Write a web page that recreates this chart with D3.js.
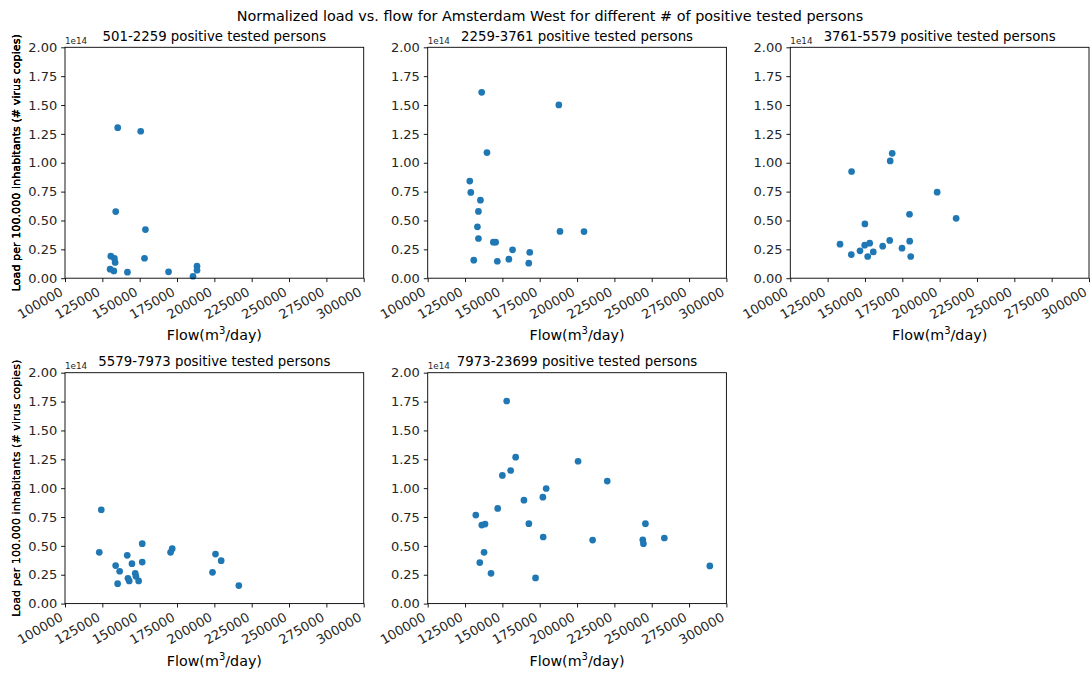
<!DOCTYPE html>
<html>
<head>
<meta charset="utf-8">
<script src="https://cdn.jsdelivr.net/npm/d3@7"></script>
<style>
  body { margin: 0; background: #fff; }
  svg { display: block; font-family: "DejaVu Sans", sans-serif; }
</style>
</head>
<body>
<svg id="chart" width="1091" height="675"></svg>
<script>
// Bins of positive tested persons
const groupLabels = [
  "501-2259 positive tested persons",
  "2259-3761 positive tested persons",
  "3761-5579 positive tested persons",
  "5579-7973 positive tested persons",
  "7973-23699 positive tested persons"
];

// Flow (m3/day) and load per 100.000 inhabitants (# virus copies), per bin
const flowA = [135300, 150700, 133970, 153850, 130670, 133090, 133560, 130200, 132680, 141810, 153220, 169330, 185700, 188390, 188390];
const loadA = [1.304e14, 1.273e14, 0.577e14, 0.421e14, 0.191e14, 0.171e14, 0.136e14, 0.078e14, 0.063e14, 0.052e14, 0.173e14, 0.055e14, 0.017e14, 0.104e14, 0.069e14];

const flowB = [136140, 187800, 139690, 128170, 128840, 135300, 133970, 133300, 133970, 143960, 145490, 156810, 168330, 130840, 146620, 154340, 167670, 188580, 204660];
const loadB = [1.610e14, 1.501e14, 1.088e14, 0.841e14, 0.743e14, 0.676e14, 0.578e14, 0.445e14, 0.344e14, 0.312e14, 0.312e14, 0.246e14, 0.223e14, 0.156e14, 0.147e14, 0.165e14, 0.130e14, 0.405e14, 0.404e14];

const flowC = [168230, 166890, 141030, 198330, 179820, 211040, 149940, 133280, 140850, 146670, 149820, 153160, 151820, 155570, 161870, 166560, 174790, 179950, 180620];
const loadC = [1.082e14, 1.016e14, 0.924e14, 0.745e14, 0.554e14, 0.519e14, 0.470e14, 0.295e14, 0.205e14, 0.237e14, 0.286e14, 0.303e14, 0.188e14, 0.228e14, 0.277e14, 0.327e14, 0.260e14, 0.321e14, 0.188e14];

const flowD = [124290, 122950, 151710, 141670, 151710, 144820, 133910, 136590, 147030, 147490, 142140, 143010, 149300, 135230, 170680, 171790, 198770, 200780, 204570, 216390];
const loadD = [0.813e14, 0.444e14, 0.519e14, 0.418e14, 0.360e14, 0.346e14, 0.329e14, 0.280e14, 0.262e14, 0.236e14, 0.219e14, 0.196e14, 0.196e14, 0.173e14, 0.444e14, 0.476e14, 0.271e14, 0.429e14, 0.372e14, 0.156e14];

const flowE = [132200, 146870, 136200, 138400, 167730, 177330, 137730, 134870, 142400, 172200, 152890, 158890, 200670, 155560, 150000, 220220, 179330, 177110, 164440, 210440, 244000, 244440, 245780, 258440, 288890];
const loadE = [0.767e14, 0.824e14, 0.680e14, 0.689e14, 0.692e14, 0.577e14, 0.444e14, 0.355e14, 0.262e14, 0.222e14, 1.755e14, 1.268e14, 1.233e14, 1.153e14, 1.110e14, 1.061e14, 0.997e14, 0.922e14, 0.896e14, 0.550e14, 0.553e14, 0.519e14, 0.692e14, 0.568e14, 0.326e14];

// Axis ticks
const flowTicks = [100000, 125000, 150000, 175000, 200000, 225000, 250000, 275000, 300000];
const loadTicks = [0, 0.25e14, 0.5e14, 0.75e14, 1.0e14, 1.25e14, 1.5e14, 1.75e14, 2.0e14];

const suptitle = "Normalized load vs. flow for Amsterdam West for different # of positive tested persons";

const panels = [
  { title: groupLabels[0], flow: flowA, load: loadA },
  { title: groupLabels[1], flow: flowB, load: loadB },
  { title: groupLabels[2], flow: flowC, load: loadC },
  { title: groupLabels[3], flow: flowD, load: loadD },
  { title: groupLabels[4], flow: flowE, load: loadE }
];

const svg = d3.select("#chart");
const W = 298.7, H = 230.9;
const colX = [65, 427.7, 790.3];
const rowY = [47.3, 372.7];
const tickLen = 3.9, tickPad = 3.9;
const dotColor = "#1f77b4";
const tickFont = 13;

svg.append("text")
  .attr("x", 550).attr("y", 21)
  .attr("text-anchor", "middle")
  .attr("font-size", 14.4)
  .attr("fill", "#000")
  .text(suptitle);

panels.forEach((p, i) => {
  const left = colX[i % 3], top = rowY[Math.floor(i / 3)];
  const g = svg.append("g").attr("transform", `translate(${left},${top})`);

  const x = d3.scaleLinear().domain([100000, 300000]).range([0, W]);
  const y = d3.scaleLinear().domain([0, 2e14]).range([H, 0]);

  // points
  g.selectAll("circle.pt")
    .data(d3.zip(p.flow, p.load))
    .join("circle")
    .attr("class", "pt")
    .attr("cx", d => x(d[0]))
    .attr("cy", d => y(d[1]))
    .attr("r", 3.35)
    .attr("fill", dotColor);

  // y axis
  const ya = g.append("g").call(
    d3.axisLeft(y).tickValues(loadTicks).tickSize(tickLen).tickPadding(tickPad)
      .tickFormat(v => (v / 1e14).toFixed(2))
  );
  ya.select(".domain").remove();
  ya.selectAll("line").attr("stroke", "#000").attr("stroke-width", 0.9);
  ya.selectAll("text").attr("font-size", tickFont).attr("font-family", "DejaVu Sans").attr("fill", "#262626");

  // x axis with rotated labels
  const xa = g.append("g").attr("transform", `translate(0,${H})`).call(
    d3.axisBottom(x).tickValues(flowTicks).tickSize(tickLen).tickFormat(d3.format("d"))
  );
  xa.select(".domain").remove();
  xa.selectAll("line").attr("stroke", "#000").attr("stroke-width", 0.9);
  xa.selectAll("text")
    .attr("font-size", tickFont).attr("font-family", "DejaVu Sans").attr("fill", "#262626")
    .attr("text-anchor", "end")
    .attr("y", 0).attr("dy", -0.24 * tickFont)
    .attr("transform", `translate(0,${tickLen + tickPad + tickFont * Math.cos(Math.PI / 6)}) rotate(-30)`);

  // frame
  g.append("rect").attr("width", W).attr("height", H)
    .attr("fill", "none").attr("stroke", "#000").attr("stroke-width", 0.9);

  // offset text
  g.append("text").attr("x", 0).attr("y", -3.5)
    .attr("font-size", 8.8).attr("fill", "#262626").text("1e14");

  // panel title
  g.append("text").attr("x", W / 2).attr("y", -6.7)
    .attr("text-anchor", "middle").attr("font-size", 13.3).attr("fill", "#000")
    .text(p.title);

  // x label
  const xl = g.append("text").attr("x", W / 2).attr("y", H + 62)
    .attr("text-anchor", "middle").attr("font-size", 14.3).attr("fill", "#000");
  xl.append("tspan").text("Flow(m");
  xl.append("tspan").attr("font-size", 10).attr("dy", -6).text("3");
  xl.append("tspan").attr("dy", 6).text("/day)");

  // y label
  g.append("text")
    .attr("transform", `translate(${-left + 19.5},${H / 2}) rotate(-90)`)
    .attr("text-anchor", "middle").attr("font-size", 11.2).attr("fill", "#000")
    .text("Load per 100.000 inhabitants (# virus copies)");
});
</script>
</body>
</html>
